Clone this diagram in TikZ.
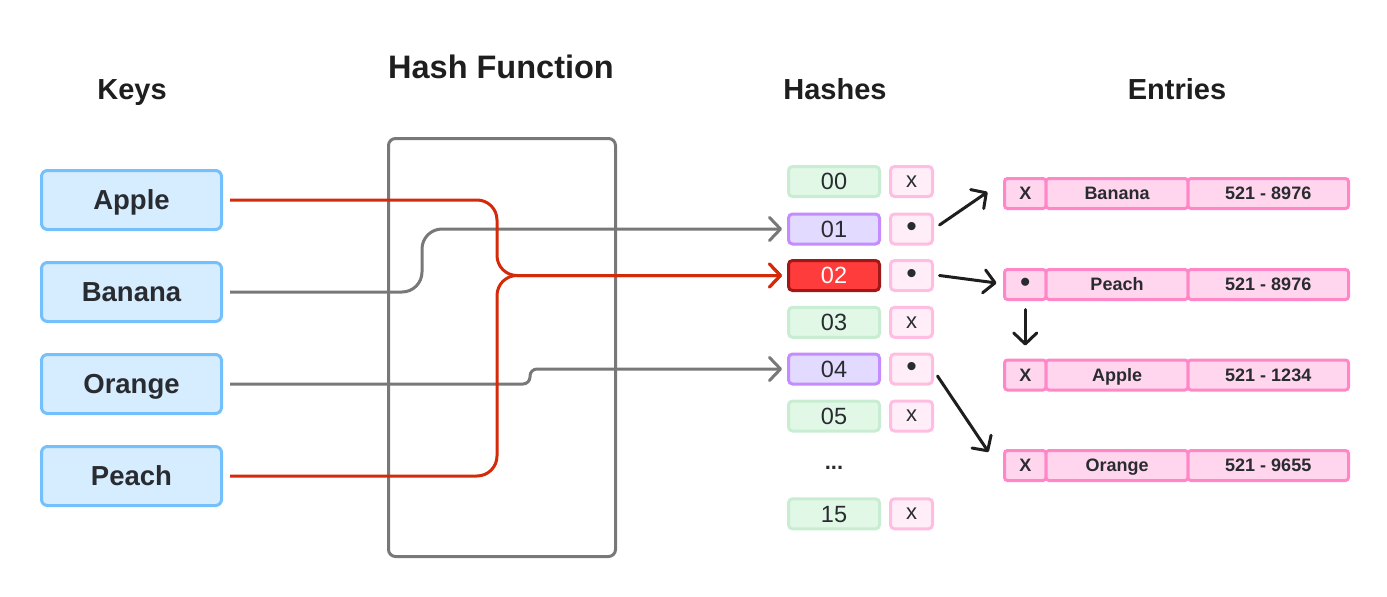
\documentclass[tikz,border=0pt]{standalone}
\usepackage{fontspec}
\setmainfont{Liberation Sans}
\usetikzlibrary{arrows.meta}
\definecolor{txt}{RGB}{40,44,48}
\definecolor{keyline}{RGB}{116,192,252}
\definecolor{keyfill}{RGB}{214,236,255}
\definecolor{grnline}{RGB}{200,237,210}
\definecolor{grnfill}{RGB}{225,248,230}
\definecolor{purline}{RGB}{196,140,255}
\definecolor{purfill}{RGB}{226,218,255}
\definecolor{redline}{RGB}{160,25,25}
\definecolor{redfill}{RGB}{255,60,60}
\definecolor{ptrline}{RGB}{255,190,225}
\definecolor{ptrfill}{RGB}{255,238,248}
\definecolor{entline}{RGB}{255,135,200}
\definecolor{entfill}{RGB}{255,214,238}
\definecolor{hfline}{RGB}{120,120,120}
\definecolor{grayc}{RGB}{120,120,120}
\definecolor{redc}{RGB}{212,42,10}
\definecolor{blk}{RGB}{30,30,30}
\begin{document}
\begin{tikzpicture}[x=1pt,y=-1pt,
  title/.style={font=\bfseries\fontsize{29}{29}\selectfont, text=blk, inner sep=0pt, text height=20.8pt, text depth=0pt},
  keybox/.style={draw=keyline, fill=keyfill, line width=3pt, rounded corners=6pt, minimum width=180pt, minimum height=59pt, inner sep=0pt, font=\bfseries\fontsize{27.5}{27.5}\selectfont, text=txt, text height=19.7pt, text depth=0pt},
  hashcell/.style={line width=3pt, rounded corners=4pt, minimum width=91pt, minimum height=30pt, inner sep=0pt, font=\fontsize{23.5}{23.5}\selectfont, text=txt, text height=16.8pt, text depth=0pt},
  hgreen/.style={hashcell, draw=grnline, fill=grnfill},
  hpurple/.style={hashcell, draw=purline, fill=purfill},
  hred/.style={hashcell, draw=redline, fill=redfill, text=white},
  ptr/.style={draw=ptrline, fill=ptrfill, line width=3pt, rounded corners=4pt, minimum width=42pt, minimum height=30pt, inner sep=0pt, font=\fontsize{22}{22}\selectfont, text=txt, text height=11.4pt, text depth=0pt},
  ptrdot/.style={ptr, font=\fontsize{30}{30}\selectfont, text height=15pt},
  entry/.style={draw=entline, fill=entfill, line width=3pt, rounded corners=3pt, minimum height=30pt, inner sep=0pt, font=\bfseries\fontsize{18}{18}\selectfont, text=txt, text height=12.9pt, text depth=0pt},
  exc/.style={entry, minimum width=41.5pt},
  enm/.style={entry, minimum width=142pt},
  evl/.style={entry, minimum width=160.5pt},
  edot/.style={exc, font=\bfseries\fontsize{28}{28}\selectfont, text height=14pt},
  tip/.style={-{Straight Barb[length=11pt,width=23pt,round]}},
  grayline/.style={draw=grayc, line width=3pt, rounded corners=20pt, tip},
  redpath/.style={draw=redc, line width=3pt, rounded corners=20pt, tip},
  blkarrow/.style={draw=blk, line width=3pt, line cap=round, tip}
]
\useasboundingbox (0,0) rectangle (1387,597);

% titles
\node[title] (tkeys) at (132,89) {Keys};
\node[title, font=\bfseries\fontsize{32.5}{32.5}\selectfont, text height=23.3pt] (thf) at (501,67) {Hash Function};
\node[title] (thash) at (835,89) {Hashes};
\node[title] (tent) at (1177,89) {Entries};

% hash function box
\node[draw=hfline, line width=3pt, rounded corners=7pt, minimum width=227pt, minimum height=418pt] (hf) at (502,347.5) {};

% keys
\node[keybox] (apple) at (131.5,200) {Apple};
\node[keybox] (banana) at (131.5,292) {Banana};
\node[keybox] (orange) at (131.5,384) {Orange};
\node[keybox] (peach) at (131.5,476) {Peach};

% hashes
\node[hgreen] (h00) at (834,181.5) {00};
\node[hpurple] (h01) at (834,229) {01};
\node[hred] (h02) at (834,275.5) {02};
\node[hgreen] (h03) at (834,322.3) {03};
\node[hpurple] (h04) at (834,369) {04};
\node[hgreen] (h05) at (834,416) {05};
\node[font=\bfseries\fontsize{22}{22}\selectfont, text=txt, inner sep=0pt] (hdots) at (834,468) {...};
\node[hgreen] (h15) at (834,513.8) {15};

\node[ptr] (p00) at (911.5,181.5) {x};
\node[ptrdot] (p01) at (911.5,229) {•};
\node[ptrdot] (p02) at (911.5,275.5) {•};
\node[ptr] (p03) at (911.5,322.3) {x};
\node[ptrdot] (p04) at (911.5,369) {•};
\node[ptr] (p05) at (911.5,416) {x};
\node[ptr] (p15) at (911.5,513.8) {x};

% entries
\node[exc] (e1x) at (1025.25,193.5) {X};
\node[enm] (e1n) at (1117,193.5) {Banana};
\node[evl] (e1v) at (1268.25,193.5) {521 - 8976};
\node[edot] (e2x) at (1025.25,284.5) {•};
\node[enm] (e2n) at (1117,284.5) {Peach};
\node[evl] (e2v) at (1268.25,284.5) {521 - 8976};
\node[exc] (e3x) at (1025.25,375) {X};
\node[enm] (e3n) at (1117,375) {Apple};
\node[evl] (e3v) at (1268.25,375) {521 - 1234};
\node[exc] (e4x) at (1025.25,465.5) {X};
\node[enm] (e4n) at (1117,465.5) {Orange};
\node[evl] (e4v) at (1268.25,465.5) {521 - 9655};

% key -> hash connectors
\coordinate (jx) at (497,275.5);
\coordinate (bx) at (422,292);
\coordinate (ox) at (530,384);
\draw[grayline] ([xshift=7pt]banana.east) -- (bx) |- ([xshift=-5pt]h01.west);
\draw[grayline, rounded corners=7pt] ([xshift=7pt]orange.east) -- (ox) |- ([xshift=-5pt]h04.west);
\draw[redpath] ([xshift=7pt]apple.east) -| (jx) -- ([xshift=-5pt]h02.west);
\draw[redpath] ([xshift=7pt]peach.east) -| (jx) -- ([xshift=-5pt]h02.west);

% pointer arrows
\draw[blkarrow] ([xshift=5.5pt,yshift=4pt]p01.east) -- ([xshift=-15.5pt,yshift=1.5pt]e1x.west);
\draw[blkarrow] ([xshift=5.5pt]p02.east) -- ([xshift=-6.5pt,yshift=1.5pt]e2x.west);
\draw[blkarrow] ([yshift=-8.5pt]e2x.south) -- ([yshift=13pt]e3x.north);
\draw[blkarrow] ([xshift=3.5pt,yshift=-7pt]p04.east) -- ([xshift=-14.5pt,yshift=13.5pt]e4x.west);
\end{tikzpicture}
\end{document}
